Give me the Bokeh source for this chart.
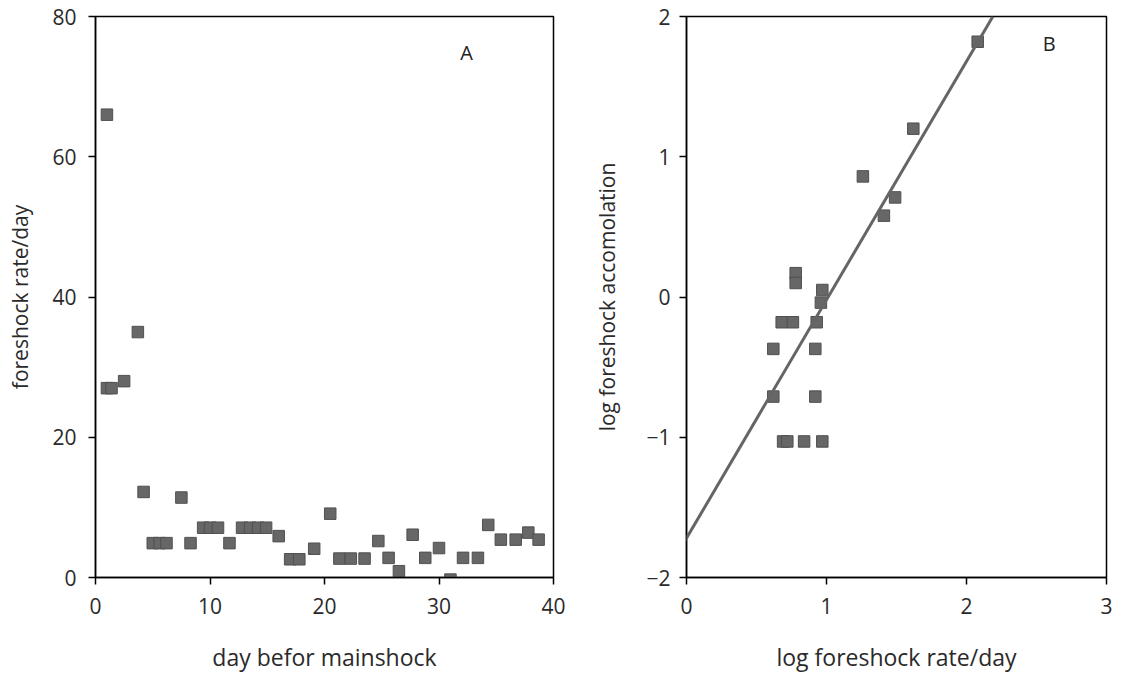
from bokeh.plotting import figure
from bokeh.layouts import row
from bokeh.models import Range1d, FixedTicker, Label, Slope
from bokeh.embed import file_html
from bokeh.resources import INLINE

# ---- Panel A data: foreshock rate per day vs day before mainshock ----
days = [1.0, 1.0, 1.4, 2.5, 3.7, 4.2, 5.0, 5.6, 6.2, 7.5, 8.3, 9.4, 10.0, 10.7,
        11.7, 12.8, 13.5, 14.2, 14.9, 16.0, 17.0, 17.8, 19.1, 20.5, 21.3, 22.3,
        23.5, 24.7, 25.6, 26.5, 27.7, 28.8, 30.0, 31.0, 32.1, 33.4, 34.3, 35.4,
        36.7, 37.8, 38.7]
rates = [66, 27, 27, 28, 35, 12.2, 4.9, 4.9, 4.9, 11.4, 4.9, 7.1, 7.1, 7.1,
         4.9, 7.1, 7.1, 7.1, 7.1, 5.9, 2.6, 2.6, 4.1, 9.1, 2.7, 2.7,
         2.7, 5.2, 2.8, 0.9, 6.1, 2.8, 4.2, -0.3, 2.8, 2.8, 7.5, 5.4,
         5.4, 6.4, 5.4]
a_xticks = [0, 10, 20, 30, 40]
a_yticks = [0, 20, 40, 60, 80]

# ---- Panel B data: log accumulation vs log rate ----
log_rate = [2.08, 1.62, 1.26, 1.49, 1.41, 0.78, 0.78, 0.97, 0.96, 0.68, 0.76,
            0.93, 0.62, 0.92, 0.62, 0.92, 0.69, 0.72, 0.84, 0.97]
log_accum = [1.82, 1.20, 0.86, 0.71, 0.58, 0.17, 0.10, 0.05, -0.04, -0.18, -0.18,
             -0.18, -0.37, -0.37, -0.71, -0.71, -1.03, -1.03, -1.03, -1.03]
fit_slope = 1.70
fit_intercept = -1.72
b_xticks = [0, 1, 2, 3]
b_yticks = [-2, -1, 0, 1, 2]

FONT = "Open Sans"
TICK_SIZE = "21px"
XLABEL_SIZE = "23px"
YLABEL_SIZE = "21px"
MARK_FILL = "#676767"
MARK_LINE = "#505050"


def style(p, xticks, yticks):
    p.xgrid.visible = False
    p.ygrid.visible = False
    p.outline_line_color = "black"
    p.outline_line_width = 1.5
    p.outline_line_alpha = 1.0
    p.background_fill_color = "white"
    p.border_fill_color = "white"
    p.xaxis.ticker = FixedTicker(ticks=xticks)
    p.yaxis.ticker = FixedTicker(ticks=yticks)
    for ax in (p.xaxis[0], p.yaxis[0]):
        ax.axis_line_color = "black"
        ax.axis_line_width = 1.5
        ax.major_tick_line_color = "black"
        ax.major_tick_line_width = 1.5
        ax.major_tick_out = 7
        ax.major_tick_in = 0
        ax.minor_tick_line_color = None
        ax.major_label_text_font = FONT
        ax.major_label_text_font_size = TICK_SIZE
        ax.major_label_text_color = "#2a2a2a"
        ax.axis_label_text_font = FONT
        ax.axis_label_text_font_style = "normal"
        ax.axis_label_text_color = "#2a2a2a"
    p.xaxis.axis_label_text_font_size = XLABEL_SIZE
    p.yaxis.axis_label_text_font_size = YLABEL_SIZE
    p.xaxis.major_label_standoff = 13
    p.xaxis.axis_label_standoff = 24


# Panel A
pa = figure(width=590, height=675, output_backend="svg", toolbar_location=None,
            x_range=Range1d(0, 40), y_range=Range1d(0, 80),
            min_border_left=95, min_border_right=37, min_border_top=16,
            min_border_bottom=97)
style(pa, a_xticks, a_yticks)
pa.xaxis.axis_label = "day befor mainshock"
pa.yaxis.axis_label = "foreshock rate/day"
pa.yaxis.major_label_standoff = 12
pa.yaxis.axis_label_standoff = 15
pa.scatter(days, rates, marker="square", size=11.5, fill_color=MARK_FILL,
           line_color=MARK_LINE, line_width=1)
pa.add_layout(Label(x=32.4, y=74.8, text="A", text_font=FONT,
                    text_font_size="20px", text_align="center",
                    text_baseline="middle", text_color="#222222"))

# Panel B
pb = figure(width=541, height=675, output_backend="svg", toolbar_location=None,
            x_range=Range1d(0, 3), y_range=Range1d(-2, 2),
            min_border_left=96, min_border_right=25, min_border_top=15,
            min_border_bottom=96)
style(pb, b_xticks, b_yticks)
pb.xaxis.axis_label = "log foreshock rate/day"
pb.yaxis.axis_label = "log foreshock accomolation"
pb.yaxis.major_label_standoff = 9
pb.yaxis.axis_label_standoff = 22
pb.add_layout(Slope(gradient=fit_slope, y_intercept=fit_intercept,
                    line_color="#656565", line_width=3))
pb.scatter(log_rate, log_accum, marker="square", size=11.5, fill_color=MARK_FILL,
           line_color=MARK_LINE, line_width=1)
pb.add_layout(Label(x=2.59, y=1.81, text="B", text_font=FONT,
                    text_font_size="20px", text_align="center",
                    text_baseline="middle", text_color="#222222"))

layout = row(pa, pb)
open("out.html", "w").write(file_html(layout, INLINE))
